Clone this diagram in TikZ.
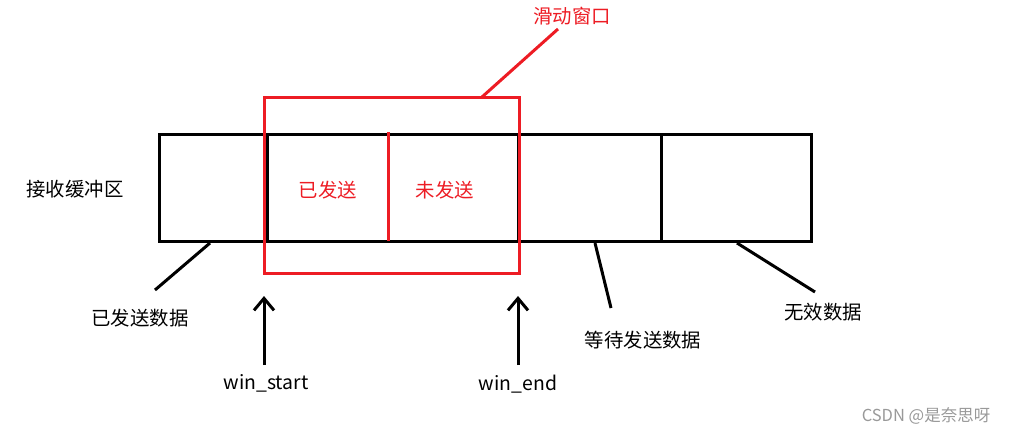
\documentclass[tikz,border=0pt]{standalone}
\usepackage{fontspec}
\setmainfont{Noto Sans CJK SC}
\usetikzlibrary{arrows.meta}
\definecolor{winred}{RGB}{237,28,36}
\tikzset{
  blk/.style={draw=black,line width=3pt},
  redln/.style={draw=winred,line width=3pt},
  lbl/.style={font=\fontsize{19.4}{21}\selectfont,inner sep=0pt,text=black},
  rlbl/.style={font=\fontsize{19.4}{21}\selectfont,inner sep=0pt,text=winred},
  ptr/.style={blk,-{Straight Barb[length=12pt,width=20pt,line width=3pt]}},
}
\begin{document}
\begin{tikzpicture}[x=1pt,y=-1pt]
\useasboundingbox (0,0) rectangle (1009,434);
% buffer cells
\coordinate (b0) at (159,134);
\coordinate (b1) at (267,134);
\coordinate (b2) at (518,134);
\coordinate (b3) at (661,134);
\coordinate (b4) at (811,134);
\coordinate (e0) at (159,241);
\coordinate (e1) at (267,241);
\coordinate (e2) at (518,241);
\coordinate (e3) at (661,241);
\coordinate (e4) at (811,241);
\draw[blk] (b0) rectangle (e4);
\draw[blk] (b1) -- (e1);
\draw[blk] (b2) -- (e2);
\draw[blk] (b3) -- (e3);
% sliding window
\draw[redln] (264,97) rectangle (519,273);
\coordinate (rd1) at (388,132);
\coordinate (rd2) at (388,241);
\draw[redln] (rd1) -- (rd2);
\coordinate (wtop) at (482,97);
\coordinate (wlead) at (558,29);
\draw[redln] (wtop) -- (wlead);
\node[rlbl] (title) at (572,16) {滑动窗口};
\node[rlbl] (sent) at (328,190) {已发送};
\node[rlbl] (unsent) at (445,190) {未发送};
\node[lbl] (buf) at (75,189) {接收缓冲区};
% leaders
\coordinate (s1) at (210,243);
\coordinate (s2) at (155,290);
\draw[blk] (s1) -- (s2);
\node[lbl] (sentdata) at (140,318) {已发送数据};
\coordinate (w1) at (595,243);
\coordinate (w2) at (611,308);
\draw[blk] (w1) -- (w2);
\node[lbl] (waitdata) at (643,340) {等待发送数据};
\coordinate (v1) at (737,243);
\coordinate (v2) at (815,292);
\draw[blk] (v1) -- (v2);
\node[lbl] (invalid) at (823,312) {无效数据};
% pointers
\coordinate (ps) at (264,365);
\coordinate (pst) at (264,296);
\draw[ptr] (ps) -- (pst);
\node[lbl] (wstart) at (266,383) {win\_start};
\coordinate (pe) at (518,365);
\coordinate (pet) at (518,296);
\draw[ptr] (pe) -- (pet);
\node[lbl] (wend) at (518,384) {win\_end};
% watermark
\node[font=\fontsize{16.5}{18}\selectfont,text=black!40,inner sep=0pt] (wm) at (926,416) {CSDN @是奈思呀};
\end{tikzpicture}
\end{document}
